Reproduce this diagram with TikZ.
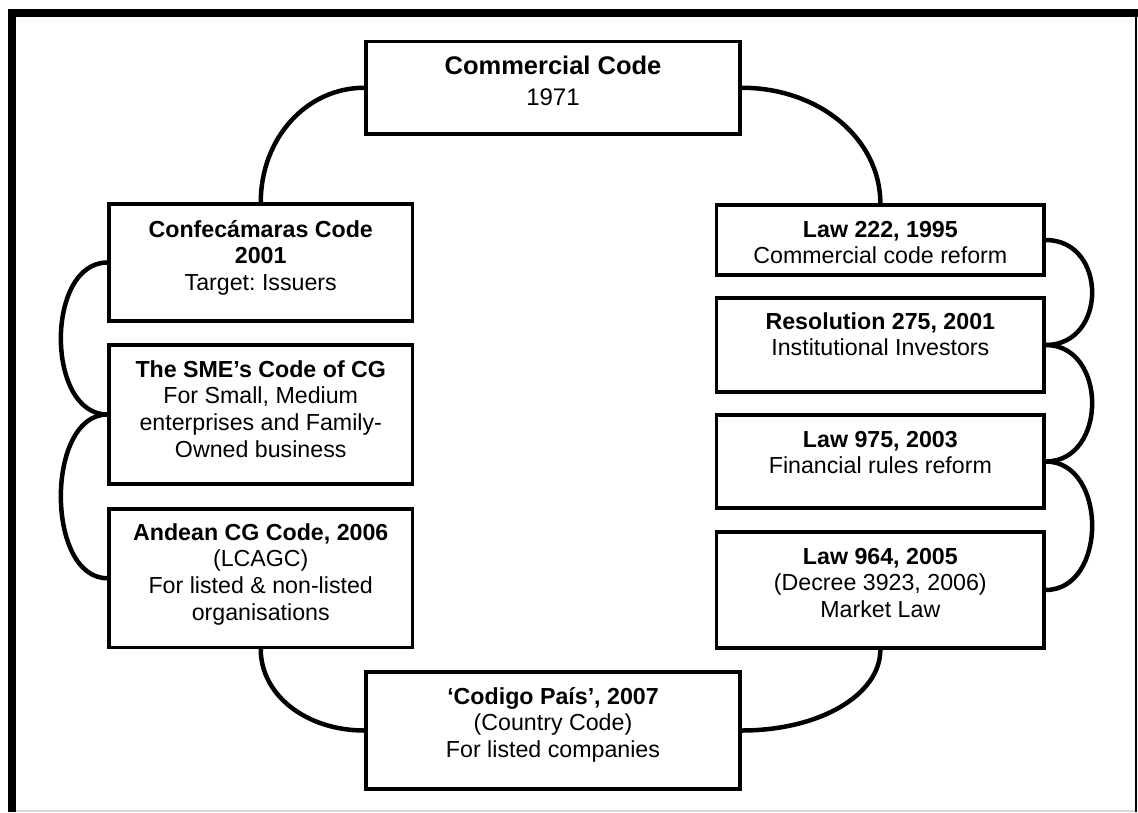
\documentclass[tikz,border=0pt]{standalone}
\usepackage{fontspec}
\setmainfont{Liberation Sans}
\newcommand\fnt{\fontsize{23.2}{26.7}\selectfont}
\newcommand\mystrut{\rule{0pt}{18pt}}
\frenchspacing
\begin{document}
\begin{tikzpicture}[x=1pt,y=-1pt,
  box/.style={draw=black, line width=3.3pt, inner sep=0pt, fill=white},
  txt/.style={anchor=north, align=center, inner sep=0pt, font=\fnt},
  conn/.style={draw=black, line width=4.5pt}]
\useasboundingbox (0,0) rectangle (1138,812);
% frame
\draw[line width=7.5pt] (12,812) -- (12,13) -- (1138,13);
\draw[line width=2pt] (1136,13) -- (1136,812);
\draw[line width=2pt, draw=black!15] (16,811) -- (1135,811);
% boxes
\node[box, minimum width=374pt, minimum height=92.5pt] (cc) at (553,87.75) {};
\node[box, minimum width=303.5pt, minimum height=117pt] (conf) at (260.75,262.5) {};
\node[box, minimum width=303.5pt, minimum height=139pt] (sme) at (260.75,414.5) {};
\node[box, minimum width=303.5pt, minimum height=138.5pt] (and) at (260.75,578.25) {};
\node[box, minimum width=327.3pt, minimum height=70pt] (l222) at (880.35,240) {};
\node[box, minimum width=327.3pt, minimum height=94pt] (res) at (880.35,345) {};
\node[box, minimum width=327.3pt, minimum height=93pt] (l975) at (880.35,461.5) {};
\node[box, minimum width=327.3pt, minimum height=116pt] (l964) at (880.35,590) {};
\node[box, minimum width=374pt, minimum height=117pt] (cp) at (553,730.5) {};
% texts
\node[txt] (cct) at (553,54) {{\fontsize{25.5}{26.7}\selectfont\bfseries\rule{0pt}{20pt}Commercial Code}\\[4.5pt]{\fontsize{24}{26.7}\selectfont 1971}};
\node[txt] (conft) at (260.75,219) {{\bfseries\mystrut Confecámaras Code}\\{\bfseries 2001}\\Target: Issuers};
\node[txt] (smet) at (260.75,359) {{\bfseries\mystrut The SME’s Code of CG}\\For Small, Medium\\enterprises and Family-\\Owned business};
\node[txt] (andt) at (260.75,522) {{\bfseries\mystrut Andean CG Code, 2006}\\(LCAGC)\\For listed \& non-listed\\organisations};
\node[txt] (l222t) at (880.35,219) {{\bfseries\mystrut Law 222, 1995}\\Commercial code reform};
\node[txt] (rest) at (880.35,311) {{\bfseries\mystrut Resolution 275, 2001}\\Institutional Investors};
\node[txt] (l975t) at (880.35,429) {{\bfseries\mystrut Law 975, 2003}\\Financial rules reform};
\node[txt] (l964t) at (880.35,546) {{\bfseries\mystrut Law 964, 2005}\\(Decree 3923, 2006)\\Market Law};
\node[txt] (cpt) at (553,686) {{\bfseries\mystrut ‘Codigo País’, 2007}\\(Country Code)\\For listed companies};
% connectors
\draw[conn] (cc.west) .. controls +(-58,0) and +(0,-64) .. (conf.north);
\draw[conn] (cc.east) .. controls +(77.5,0) and +(0,-64.5) .. (l222.north);
\draw[conn] (and.south) .. controls +(0,46) and +(-58,0) .. (cp.west);
\draw[conn] (l964.south) .. controls +(0,45.5) and +(77.5,0) .. (cp.east);
\draw[conn] (conf.west) .. controls +(-62,0) and +(-62,0) .. (sme.west);
\draw[conn] (sme.west) .. controls +(-62,0) and +(-62,0) .. (and.west);
\draw[conn] (l222.east) .. controls +(62,0) and +(62,0) .. (res.east);
\draw[conn] (res.east) .. controls +(62,0) and +(62,0) .. (l975.east);
\draw[conn] (l975.east) .. controls +(62,0) and +(62,0) .. (l964.east);
\end{tikzpicture}
\end{document}
